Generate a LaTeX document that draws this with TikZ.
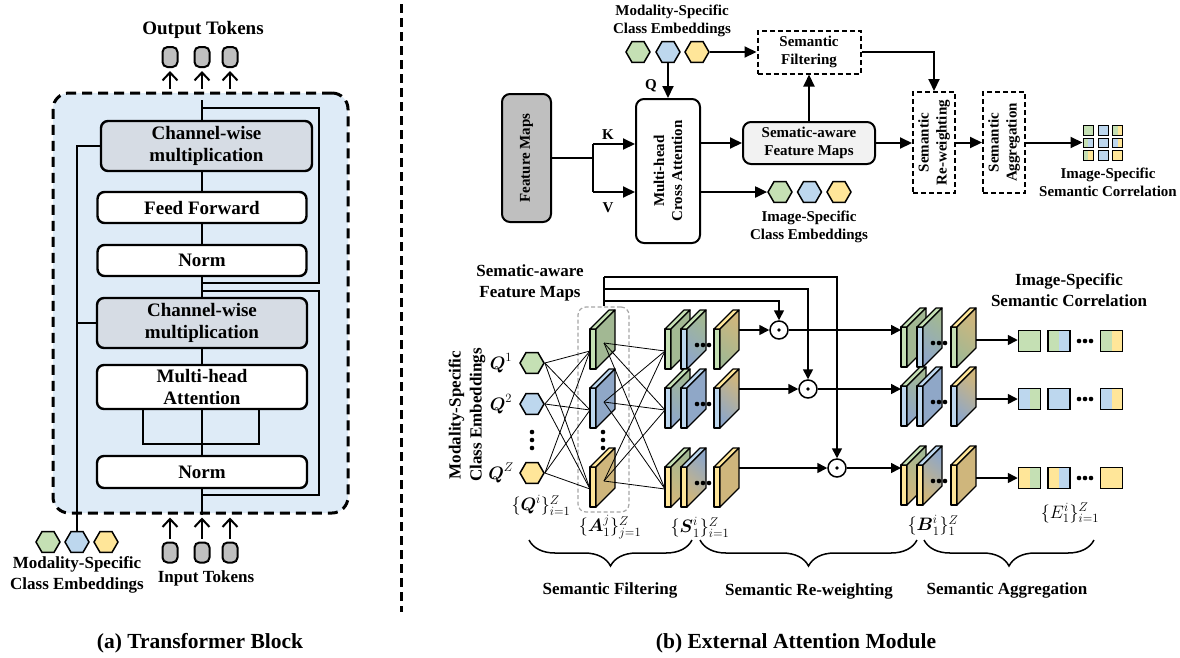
\documentclass[tikz,border=0pt]{standalone}
\usepackage{fix-cm}
\usepackage{amsmath}
\usepackage{fontspec}
\setmainfont{Liberation Serif}
\usetikzlibrary{arrows.meta,decorations.pathreplacing,shapes.geometric,calc}

\definecolor{gL}{HTML}{C5E0B4}
\definecolor{bL}{HTML}{BDD7EE}
\definecolor{yL}{HTML}{FFE699}
\definecolor{gD}{HTML}{A2B893}
\definecolor{bD}{HTML}{8FA7C7}
\definecolor{yD}{HTML}{CFB67C}
\definecolor{panelblue}{HTML}{DEEBF7}
\definecolor{cwgray}{HTML}{D6DCE4}
\definecolor{tokgray}{HTML}{BFBFBF}
\definecolor{safmgray}{HTML}{F2F2F2}
\definecolor{framegray}{HTML}{A6A6A6}

% anchor points of a thin 3-D plate whose front face has its top-left corner at (#2,#3)
\newcommand\platecoords[3]{%
  \coordinate (#1) at (#2,#3);
  \coordinate (#1-w) at (#2,#3+22);
  \coordinate (#1-c) at (#2+14,#3+14);
  \coordinate (#1-e) at (#2+25,#3+1);
  \coordinate (#1-l) at (#2+25,#3+13);
}
% plate faces: front colour, top colour, side colour above, side colour below
\newcommand\drawplate[5]{%
  \filldraw[fill=#2, plate] (#1) rectangle ++(6,40);
  \filldraw[fill=#3, plate] (#1) -- ++(19,-19) -- ++(6,0) -- ++(-19,19) -- cycle;
  \shadedraw[top color=#4, bottom color=#5, shading angle=-40, plate]
    ($(#1)+(6,0)$) -- ++(19,-19) -- ++(0,40) -- ++(-19,19) -- cycle;
}
\newcommand\rowdots[2]{\foreach \dx in {-6,0,6} \fill (#1+\dx,#2) circle (2.3pt);}
\newcommand\coldots[2]{\foreach \dy in {-8,0,8} \fill (#1,#2+\dy) circle (2.3pt);}

\begin{document}
\begin{tikzpicture}[x=1pt,y=-1pt,
  plate/.style={draw=black, line width=1.2pt, line join=round},
  lbox/.style={draw, line width=2.4pt, rounded corners=7pt, fill=white, inner sep=0pt, align=center,
    font=\fontsize{19}{22}\selectfont\bfseries},
  cwbox/.style={lbox, fill=cwgray},
  trunkline/.style={line width=2.6pt},
  tok/.style={draw, line width=2pt, fill=tokgray, rounded corners=5pt, minimum width=15pt,
    minimum height=20pt, inner sep=0pt},
  tokarrow/.style={line width=2pt, -{Straight Barb[width=15pt,length=8pt]}, shorten <=3pt, shorten >=3pt},
  hexa/.style={regular polygon, regular polygon sides=6, draw, line width=1.5pt, minimum size=24pt,
    inner sep=0pt, fill=#1},
  rbox/.style={draw, line width=2pt, rounded corners=8pt, inner sep=0pt},
  dbox/.style={draw, line width=2pt, dash pattern=on 5pt off 3pt, inner sep=0pt},
  txt15/.style={font=\fontsize{15}{18}\selectfont\bfseries, align=center, inner sep=0pt},
  txt17/.style={font=\fontsize{17}{21}\selectfont\bfseries, align=center, inner sep=0pt},
  mathlab/.style={font=\fontsize{18}{21}\selectfont, inner sep=0pt},
  arr/.style={line width=2pt, -{Triangle[width=11pt,length=12pt]}},
  arrs/.style={line width=1.6pt, -{Triangle[width=10pt,length=10pt]}},
  web/.style={line width=0.8pt},
  odot/.style={circle, draw, line width=1.5pt, fill=white, minimum size=18pt, inner sep=0pt},
  esq/.style 2 args={draw, line width=1.5pt, minimum width=22pt, minimum height=21pt, inner sep=0pt,
    fill=#2, path picture={\fill[#1] (path picture bounding box.south west) rectangle
      (path picture bounding box.north);}},
  gsq/.style 2 args={esq={#1}{#2}, line width=1pt, minimum width=10pt, minimum height=9.5pt},
  brace/.style={decorate, decoration={brace, amplitude=26pt, mirror}, line width=1.5pt},
  title/.style={font=\fontsize{21.5}{26}\selectfont\bfseries, inner sep=0pt},
]
\useasboundingbox (0,0) rectangle (1180,657);

% ================= (a) transformer block =================
\node[draw, line width=3pt, dash pattern=on 10pt off 6pt, rounded corners=16pt, fill=panelblue,
      minimum width=295pt, minimum height=420pt] (frame) at (200.5,303) {};

\node[cwbox, minimum width=211pt, minimum height=50pt] (cw1) at (206.5,146) {Channel-wise\\multiplication};
\node[lbox, minimum width=209pt, minimum height=31pt] (ff) at (202,207.5) {Feed Forward};
\node[lbox, minimum width=209pt, minimum height=31pt] (n1) at (202,260.5) {Norm};
\node[cwbox, minimum width=210pt, minimum height=50pt] (cw2) at (202,323) {Channel-wise\\multiplication};
\node[lbox, minimum width=210pt, minimum height=44pt] (mha) at (202,387) {Multi-head\\Attention};
\node[lbox, minimum width=210pt, minimum height=32pt] (n2) at (202,472) {Norm};

\coordinate (trunk) at (202,100);
\draw[trunkline] (trunk) -- (trunk |- cw1.north);
\draw[trunkline] (cw1.south -| trunk) -- (ff.north);
\draw[trunkline] (ff.south) -- (n1.north);
\draw[trunkline] (n1.south) -- (cw2.north);
\draw[trunkline] (cw2.south) -- (mha.north);
\draw[trunkline] (mha.south) -- (n2.north);
\draw[trunkline] (n2.south) -- (n2.south |- frame.south);
% query / key / value branches
\coordinate (qbr) at (143,444);
\coordinate (vbr) at (259,444);
\draw[trunkline] (mha.south -| qbr) -- (qbr) -- (vbr) -- (mha.south -| vbr);
% residual paths
\coordinate (r1a) at (202,108);
\coordinate (r1b) at (319,283);
\draw[trunkline] (r1a) -| (r1b) -- (r1b -| trunk);
\coordinate (r2a) at (202,291);
\coordinate (r2b) at (319,495);
\draw[trunkline] (r2a) -| (r2b) -- (r2b -| trunk);

% class embeddings feeding both multiplications
\node[hexa=gL] (lh1) at (48,542) {};
\node[hexa=bL] (lh2) at (77,542) {};
\node[hexa=yL] (lh3) at (106,542) {};
\coordinate (bus) at (77,146);
\draw[trunkline] (cw1.west) -- (bus) -- (lh2.north);
\draw[trunkline] (cw2.west) -- (cw2.west -| bus);
\node[txt17] (lmse) at (77,575) {Modality-Specific\\Class Embeddings};

% tokens
\foreach \k/\xx in {1/170,2/202,3/230} {
  \node[tok] (ot\k) at (\xx,57) {};
  \draw[tokarrow] (ot\k |- frame.north) -- (ot\k.south);
  \node[tok] (it\k) at (\xx,552.5) {};
  \draw[tokarrow] (it\k.north) -- (it\k.north |- frame.south);
}
\node[font=\fontsize{19}{22}\selectfont\bfseries, inner sep=0pt] (otl) at (203,30) {Output Tokens};
\node[txt17] (itl) at (206,578) {Input Tokens};
\node[title] (ta) at (200,643) {(a) Transformer Block};

% divider
\draw[line width=3pt, dash pattern=on 9pt off 5pt] (401,4) -- (401,612);

% ================= (b) external attention: overview =================
\node[txt15] (msl) at (672,21) {Modality-Specific\\Class Embeddings};
\node[hexa=gL] (th1) at (638,52) {};
\node[hexa=bL] (th2) at (668,52) {};
\node[hexa=yL] (th3) at (697,52) {};

\node[rbox, fill=tokgray, minimum width=49pt, minimum height=128pt] (fm) at (526.5,158) {};
\node[txt15, rotate=90] at (fm) {Feature Maps};
\node[rbox, fill=white, minimum width=64pt, minimum height=144pt] (mhca) at (668,171) {};
\node[txt15, rotate=90] at (mhca) {Multi-head\\Cross Attention};
\node[rbox, fill=safmgray, minimum width=132pt, minimum height=42pt, txt15] (safm) at (809,143) {Sematic-aware\\Feature Maps};
\node[dbox, minimum width=103pt, minimum height=43pt, txt15] (sf) at (809,52) {Semantic\\Filtering};
\node[dbox, minimum width=42pt, minimum height=101pt] (srw) at (934,142.5) {};
\node[txt15, rotate=90] at (srw) {Semantic\\Re-weighting};
\node[dbox, minimum width=42pt, minimum height=101pt] (sag) at (1004,142.5) {};
\node[txt15, rotate=90] at (sag) {Semantic\\Aggregation};

\node[hexa=gL] (ih1) at (780,192) {};
\node[hexa=bL] (ih2) at (809.5,192) {};
\node[hexa=yL] (ih3) at (839,192) {};
\node[txt15] (isl) at (809,227) {Image-Specific\\Class Embeddings};

% K / V split of the feature maps
\coordinate (jn) at (593,158);
\coordinate (kk) at (593,144);
\coordinate (vv) at (593,192);
\draw[line width=2pt] (fm.east) -- (jn);
\draw[line width=2pt] (kk) -- (vv);
\draw[arr] (kk) -- (kk -| mhca.west);
\draw[arr] (vv) -- (vv -| mhca.west);
\node[txt15] at (608,135) {K};
\node[txt15] at (608,208) {V};
\draw[arr] (th2.south) -- (mhca.north);
\node[txt15] at (651,86) {Q};
\draw[arr] (th3.east) -- (sf.west);
\draw[arr] (mhca.east |- safm.west) -- (safm.west);
\draw[arr] (mhca.east |- ih1.west) -- (ih1.west);
\draw[arr] (safm.north) -- (sf.south);
\draw[arr] (sf.east) -| (srw.north);
\draw[arr] (safm.east) -- (safm.east -| srw.west);
\draw[arr] (srw.east) -- (sag.west);

% correlation grid
\foreach \r/\yy/\ca/\cb/\cc/\da/\db/\dc in {1/130.5/gL/bL/gL/gL/bL/yL, 2/143/gL/bL/bL/bL/bL/yL, 3/155.5/gL/bL/yL/yL/bL/yL} {
  \node[gsq={\ca}{\da}] (g\r1) at (1088,\yy) {};
  \node[gsq={\cb}{\db}] (g\r2) at (1103,\yy) {};
  \node[gsq={\cc}{\dc}] (g\r3) at (1117.5,\yy) {};
}
\draw[arr] (sag.east) -- (sag.east -| g21.west);
\node[txt15] (gl) at (1108,182) {Image-Specific\\Semantic Correlation};

% ================= (b) external attention: detail =================
\node[txt17] (safml) at (530,282.5) {Sematic-aware\\Feature Maps};
\node[txt17, rotate=90] (msrot) at (467,415) {Modality-Specific\\Class Embeddings};

\node[draw=framegray, line width=1.2pt, dash pattern=on 4pt off 2.5pt, rounded corners=8pt,
      minimum width=51pt, minimum height=205pt] (abox) at (603.5,409.5) {};

% fan-out of the feature maps to the three products
\coordinate (f1) at (604,301);
\coordinate (f2) at (604,289);
\coordinate (f3) at (604,277);
\node[odot] (c1) at (779,330) {};
\node[odot] (c2) at (808,389) {};
\node[odot] (c3) at (837,468) {};
\draw[line width=1.6pt] (abox.north -| f1) -- (f3);
\draw[arrs] (f1) -| (c1.north);
\draw[arrs] (f2) -| (c2.north);
\draw[arrs] (f3) -| (c3.north);

% query embeddings
\node[hexa=gL] (q1) at (532,363) {};
\node[hexa=bL] (q2) at (532,404) {};
\node[hexa=yL] (q3) at (532,473) {};
\coldots{532}{440}
\node[mathlab] at (501,363) {$\boldsymbol{Q}^1$};
\node[mathlab] at (501,404) {$\boldsymbol{Q}^2$};
\node[mathlab] at (501,473) {$\boldsymbol{Q}^Z$};
\node[mathlab] at (541,505) {$\{\boldsymbol{Q}^i\}_{i=1}^Z$};

% plate positions
\platecoords{A1}{590}{329}
\platecoords{A2}{590}{388}
\platecoords{A3}{590}{467}
\foreach \r/\yy in {1/329,2/388,3/467} {
  \platecoords{S\r1}{665}{\yy}
  \platecoords{S\r2}{681}{\yy}
  \platecoords{S\r3}{714}{\yy}
}
\foreach \r/\yy in {1/327,2/386,3/465} {
  \platecoords{B\r1}{901}{\yy}
  \platecoords{B\r2}{917}{\yy}
  \platecoords{B\r3}{951}{\yy}
}

% queries to attention maps
\foreach \i in {1,2,3} \foreach \j in {1,2,3} \draw[web] (q\i.east) -- (A\j-w);
\drawplate{A1}{gL}{gL}{gD}{gD}
\drawplate{A2}{bL}{bL}{bD}{bD}
\drawplate{A3}{yL}{yL}{yD}{yD}
\coldots{603}{440}
% attention maps to filtered maps
\foreach \j in {1,2,3} \foreach \i in {1,2,3} \draw[web] (A\j-c) -- (S\i1-w);

% filtered and re-weighted stacks
\foreach \P in {S,B} {
  \drawplate{\P11}{gL}{gL}{gD}{gD}
  \drawplate{\P12}{bL}{gL}{gD}{bD}
  \drawplate{\P13}{gL}{yL}{yD}{gD}
  \drawplate{\P21}{bL}{gL}{gD}{bD}
  \drawplate{\P22}{bL}{bL}{bD}{bD}
  \drawplate{\P23}{bL}{yL}{yD}{bD}
  \drawplate{\P31}{yL}{gL}{gD}{yD}
  \drawplate{\P32}{yL}{bL}{bD}{yD}
  \drawplate{\P33}{yL}{yL}{yD}{yD}
}
\rowdots{703}{345} \rowdots{703}{404} \rowdots{703}{483}
\rowdots{939}{343} \rowdots{939}{402} \rowdots{939}{481}

\foreach \r in {1,2,3} {
  \draw[arrs] (S\r3-e) -- (c\r.west);
  \draw[arrs] (c\r.east) -- (c\r.east -| B\r1);
  \fill (c\r) circle (1.8pt);
}

% correlation vectors
\foreach \r/\yy/\ca/\cb/\cc/\da/\db/\dc in {1/341/gL/gL/gL/gL/bL/yL, 2/399/bL/bL/bL/gL/bL/yL, 3/478/yL/yL/yL/gL/bL/yL} {
  \node[esq={\ca}{\da}] (e\r1) at (1029.5,\yy) {};
  \node[esq={\cb}{\db}] (e\r2) at (1059,\yy) {};
  \node[esq={\cc}{\dc}] (e\r3) at (1111.5,\yy) {};
  \rowdots{1085}{\yy}
  \draw[arrs] (B\r3-l) -- (B\r3-l -| e\r1.west);
}

\node[txt17] (ecl) at (1069,290) {Image-Specific\\Semantic Correlation};

\node[mathlab] at (610,527) {$\{\boldsymbol{A}_1^j\}_{j=1}^Z$};
\node[mathlab] at (700,527) {$\{\boldsymbol{S}_1^i\}_{i=1}^Z$};
\node[mathlab] at (933,525) {$\{\boldsymbol{B}_1^i\}_1^Z$};
\node[mathlab] at (1070,513) {$\{E_1^i\}_{i=1}^Z$};

% stage braces
\draw[brace] (529,540) -- (692,540);
\draw[brace] (700,540) -- (917,540);
\draw[brace] (924,540) -- (1094,540);
\node[txt17] at (610,590) {Semantic Filtering};
\node[txt17] at (809,591) {Semantic Re-weighting};
\node[txt17] at (1007,590) {Semantic Aggregation};

\node[title] (tb) at (796,643) {(b) External Attention Module};
\end{tikzpicture}
\end{document}
